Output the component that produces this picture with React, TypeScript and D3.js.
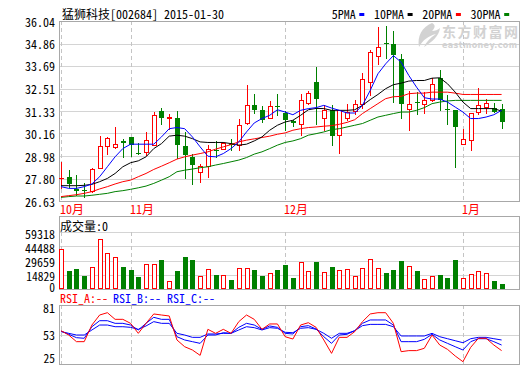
import React, { useRef, useEffect } from "react";
import * as d3 from "d3";

// 猛狮科技 daily K-line, 2014-10 .. 2015-01
const open = [27.81, 27.9, 27.24, 27.22, 27.17, 28.33, 29.49, 29.46, 29.76, 29.96, 29.16, 29.2, 29.58, 31.32, 30.97, 30.99, 29.49, 28.94, 28.16, 28.45, 29.29, 29.37, 29.63, 29.58, 30.71, 31.66, 31.37, 30.99, 31.61, 31.23, 30.8, 30.68, 31.77, 32.85, 30.99, 31.37, 30.07, 30.99, 31.33, 31.72, 32.85, 34.23, 34.89, 34.84, 34.06, 31.46, 31.8, 31.72, 31.89, 33.07, 31.42, 31.37, 29.63, 29.84, 31.28, 31.54, 31.51, 31.46];
const high = [28.68, 28.24, 27.98, 27.55, 28.37, 30.02, 29.95, 30.5, 29.89, 29.98, 29.67, 30.24, 31.27, 31.51, 31.2, 31.33, 30.24, 29.11, 28.56, 29.55, 29.77, 29.72, 29.89, 30.94, 32.72, 32.24, 31.58, 31.86, 32.2, 31.33, 30.88, 32.2, 32.38, 33.66, 31.63, 31.63, 31.4, 31.72, 31.89, 33.31, 34.53, 35.71, 35.76, 35.54, 34.32, 32.36, 32.32, 32.32, 33.07, 33.49, 32.19, 31.4, 30.38, 31.23, 32.53, 31.94, 31.75, 31.72];
const low = [27.3, 27.38, 26.94, 26.82, 27.12, 28.33, 29.11, 29.41, 28.94, 28.97, 29.08, 29.03, 29.55, 30.68, 30.41, 28.9, 27.85, 27.52, 27.64, 27.9, 28.94, 29.34, 29.29, 29.29, 30.68, 31.23, 30.76, 30.95, 31.11, 30.33, 30.57, 30.07, 31.72, 30.68, 30.33, 29.55, 29.16, 30.85, 31.2, 31.51, 32.15, 33.8, 34.11, 31.8, 30.99, 30.36, 31.2, 31.23, 31.86, 31.4, 30.68, 28.42, 29.63, 29.29, 31.2, 31.23, 31.26, 30.45];
const close = [27.81, 27.5, 27.17, 27.19, 28.28, 29.49, 29.91, 29.63, 29.67, 29.55, 29.1, 29.84, 31.14, 30.97, 31.0, 29.55, 29.03, 28.51, 28.45, 29.37, 29.23, 29.67, 29.56, 30.62, 31.63, 31.37, 30.88, 31.61, 31.56, 30.88, 30.73, 31.89, 32.27, 31.98, 31.37, 30.05, 31.37, 31.28, 31.72, 33.02, 34.44, 34.7, 34.84, 34.27, 31.72, 31.68, 31.75, 31.89, 32.76, 31.89, 31.37, 30.5, 29.89, 31.23, 31.63, 31.77, 31.28, 30.76];
const volume = [41400, 19000, 20700, 13400, 22800, 52400, 37200, 33100, 22800, 19700, 12400, 25900, 25900, 30000, 8300, 18600, 33100, 30000, 13400, 20700, 14500, 14500, 9300, 21700, 21700, 19700, 13400, 16600, 19700, 24800, 11400, 27900, 18600, 27900, 17600, 22800, 19700, 20700, 13100, 21700, 31000, 21700, 16600, 19700, 29000, 23800, 18600, 10300, 13400, 14500, 11400, 30000, 11400, 15500, 18600, 16600, 8300, 5200];

const ma5 = [27.38, 27.29, 27.29, 27.38, 27.52, 27.9, 28.42, 28.94, 29.37, 29.6, 29.6, 29.6, 29.6, 29.98, 30.41, 30.47, 30.41, 29.98, 29.46, 28.97, 28.94, 29.11, 29.37, 29.72, 30.24, 30.71, 30.94, 31.11, 31.4, 31.28, 31.14, 31.37, 31.46, 31.51, 31.63, 31.49, 31.37, 31.23, 31.23, 31.63, 32.41, 33.28, 33.8, 34.23, 33.89, 33.19, 32.58, 32.03, 31.96, 31.96, 31.8, 31.54, 31.28, 30.94, 30.94, 31.02, 31.14, 31.37];
const ma10 = [27.43, 27.43, 27.43, 27.45, 27.5, 27.64, 27.81, 28.07, 28.42, 28.63, 28.73, 28.94, 29.37, 29.63, 30.02, 30.07, 30.02, 29.89, 29.72, 29.69, 29.69, 29.69, 29.63, 29.55, 29.6, 29.77, 29.98, 30.33, 30.59, 30.76, 30.85, 31.11, 31.4, 31.47, 31.46, 31.37, 31.37, 31.37, 31.4, 31.63, 31.93, 32.2, 32.5, 32.71, 32.79, 32.9, 32.93, 32.93, 33.05, 33.07, 32.76, 32.32, 31.8, 31.46, 31.46, 31.46, 31.46, 31.33];
const ma20 = [26.86, 26.91, 26.96, 27.03, 27.12, 27.26, 27.38, 27.52, 27.64, 27.72, 27.9, 28.07, 28.28, 28.45, 28.63, 28.82, 28.94, 29.03, 29.11, 29.2, 29.34, 29.46, 29.58, 29.72, 29.81, 29.88, 29.95, 30.02, 30.12, 30.19, 30.33, 30.41, 30.47, 30.5, 30.54, 30.57, 30.64, 30.74, 30.88, 31.2, 31.46, 31.72, 31.98, 32.08, 32.1, 32.24, 32.27, 32.27, 32.32, 32.32, 32.32, 32.27, 32.2, 32.2, 32.2, 32.2, 32.2, 32.2];
const ma30 = [26.82, 26.86, 26.89, 26.89, 26.93, 26.98, 27.03, 27.12, 27.17, 27.24, 27.32, 27.41, 27.55, 27.72, 27.9, 28.16, 28.24, 28.3, 28.37, 28.42, 28.51, 28.59, 28.68, 28.77, 28.9, 29.08, 29.2, 29.37, 29.55, 29.69, 29.77, 29.89, 30.07, 30.15, 30.24, 30.36, 30.41, 30.5, 30.59, 30.68, 30.85, 31.02, 31.11, 31.2, 31.28, 31.28, 31.37, 31.51, 31.72, 31.8, 31.86, 31.89, 31.89, 31.89, 31.89, 31.89, 31.89, 31.89];

const rsiA = [56.6, 52.5, 46.2, 46.2, 62.0, 71.5, 73.7, 67.4, 67.4, 63.6, 54.1, 63.6, 72.5, 71.5, 70.6, 47.8, 41.4, 38.3, 33.2, 57.9, 54.1, 57.9, 54.1, 65.2, 71.5, 67.4, 57.9, 63.0, 63.0, 50.9, 48.7, 62.0, 64.2, 59.8, 47.8, 35.1, 50.3, 50.3, 55.7, 65.2, 72.5, 73.7, 73.7, 63.6, 36.7, 37.7, 37.7, 39.9, 52.5, 43.0, 38.9, 32.6, 27.2, 40.8, 49.4, 49.4, 43.0, 37.7];
const rsiB = [56.3, 53.2, 50.0, 49.4, 60.4, 66.1, 66.1, 63.6, 63.6, 62.0, 57.3, 63.6, 69.3, 67.4, 67.4, 50.9, 47.8, 46.2, 44.6, 52.5, 52.5, 54.7, 54.1, 59.8, 63.6, 62.0, 57.9, 61.1, 59.8, 54.1, 53.5, 60.4, 61.4, 58.2, 50.9, 44.6, 52.5, 53.2, 56.6, 63.6, 66.8, 66.8, 66.8, 62.0, 46.2, 46.2, 46.2, 48.4, 53.2, 47.8, 44.6, 41.4, 38.3, 46.2, 49.0, 49.0, 46.2, 43.0];
const rsiC = [55.7, 54.1, 52.5, 52.5, 57.3, 62.0, 62.0, 60.4, 60.4, 59.8, 57.9, 61.1, 65.2, 63.6, 63.6, 54.1, 52.5, 50.3, 50.3, 53.5, 53.5, 54.1, 54.1, 57.3, 60.4, 59.5, 57.3, 59.5, 58.9, 55.1, 54.7, 58.9, 59.5, 57.9, 54.1, 49.4, 54.1, 54.1, 56.6, 61.4, 62.6, 62.6, 62.6, 60.4, 51.6, 51.6, 51.6, 51.6, 54.1, 50.9, 49.0, 47.1, 45.2, 49.0, 50.3, 50.3, 49.0, 47.8];

const priceTicks = ["26.63", "27.80", "28.98", "30.16", "31.33", "32.51", "33.69", "34.86", "36.04"];
const volTicks = ["0", "14829", "29659", "44488", "59318"];
const rsiTicks = ["25", "53", "81"];
const monthLabels = ["10月", "11月", "12月", "1月"];
const monthStart = [0, 9, 29, 52];
const maNames = ["5PMA", "10PMA", "20PMA", "30PMA"];
const maColors = ["#0000ff", "#000000", "#ff0000", "#008000"];

const RED = "#ff0000";
const GREEN = "#008000";
const FONT = "'Noto Sans Mono CJK SC','Noto Sans CJK SC',monospace";

const App = () => {
  const ref = useRef(null);

  const w = 520,
    h = 365;
  const left = 59,
    right = 519;
  const mainTop = 21,
    mainBottom = 201;
  const volTop = 216,
    volPlotTop = 232,
    volBottom = 289;
  const rsiTop = 305,
    rsiBottom = 364;

  useEffect(() => {
    const svg = d3.select(ref.current);
    svg.selectAll("*").remove();
    svg.attr("viewBox", [0, 0, w, h]).attr("width", w).attr("height", h);

    const n = close.length;
    const x = d3.scaleLinear().domain([0, n - 1]).range([61, 501.6]);
    const px = (i) => Math.round(x(i));

    const y = d3
      .scaleLinear()
      .domain([+priceTicks[0], +priceTicks[priceTicks.length - 1]])
      .range([mainBottom, mainTop]);
    const yv = d3
      .scaleLinear()
      .domain([0, +volTicks[volTicks.length - 1]])
      .range([volBottom, volPlotTop]);
    const yr = d3
      .scaleLinear()
      .domain([+rsiTicks[0], +rsiTicks[rsiTicks.length - 1]])
      .range([rsiBottom, rsiTop]);

    const grid = svg.append("g").attr("shape-rendering", "crispEdges");
    const hline = (yy, color) =>
      grid
        .append("line")
        .attr("x1", left)
        .attr("x2", right)
        .attr("y1", Math.round(yy) + 0.5)
        .attr("y2", Math.round(yy) + 0.5)
        .attr("stroke", color);

    // gridlines
    priceTicks.slice(1, -1).forEach((t) => hline(y(+t), "#d4d4d4"));
    volTicks.slice(1).forEach((t) => hline(yv(+t), "#d4d4d4"));
    hline(yr(53), "#d4d4d4");

    // month dashes
    monthStart.forEach((idx) => {
      [
        [mainTop, mainBottom],
        [volPlotTop, volBottom],
        [rsiTop, rsiBottom],
      ].forEach(([a, b]) =>
        grid
          .append("line")
          .attr("x1", px(idx) + 0.5)
          .attr("x2", px(idx) + 0.5)
          .attr("y1", a)
          .attr("y2", b)
          .attr("stroke", "#c4c4c4")
          .attr("stroke-dasharray", "4,3")
      );
    });

    // frames
    [
      [mainTop, mainBottom],
      [volTop, volBottom],
      [rsiTop, rsiBottom],
    ].forEach(([a, b]) =>
      grid
        .append("rect")
        .attr("x", left + 0.5)
        .attr("y", a + 0.5)
        .attr("width", right - left)
        .attr("height", b - a)
        .attr("fill", "none")
        .attr("stroke", "#a8a8a8")
    );

    // watermark
    const wm = svg.append("g").attr("fill", "#d2d2d2");
    wm.append("path").attr(
      "d",
      "M432,23 C422,27 417,36 419,47 C423,40 428,36 436,34 C430,38 426,42 424,47 C432,42 439,36 440,28 C438,30 435,31 432,31 C435,28 436,25 432,23 Z"
    );
    wm.append("text")
      .attr("x", 442)
      .attr("y", 37)
      .attr("font-family", "'Noto Sans CJK SC'")
      .attr("font-weight", "bold")
      .attr("font-size", 14)
      .attr("textLength", 76)
      .text("东方财富网");
    wm.append("text")
      .attr("x", 442)
      .attr("y", 48)
      .attr("font-family", "'DejaVu Sans'")
      .attr("font-weight", "bold")
      .attr("font-size", 8)
      .attr("textLength", 75)
      .text("eastmoney.com");

    // candles
    const candles = svg.append("g").attr("shape-rendering", "crispEdges");
    d3.range(n).forEach((i) => {
      const cx = px(i);
      const up = close[i] >= open[i];
      const color = up ? RED : GREEN;
      const top = Math.round(y(Math.max(open[i], close[i])));
      const bot = Math.round(y(Math.min(open[i], close[i])));
      const hi = Math.round(y(high[i]));
      const lo = Math.round(y(low[i]));
      if (up) {
        if (top < bot) {
          candles.append("line").attr("x1", cx + 0.5).attr("x2", cx + 0.5).attr("y1", hi).attr("y2", top).attr("stroke", color);
          candles.append("line").attr("x1", cx + 0.5).attr("x2", cx + 0.5).attr("y1", bot + 1).attr("y2", lo + 1).attr("stroke", color);
          candles
            .append("rect")
            .attr("x", cx - 2 + 0.5)
            .attr("y", top + 0.5)
            .attr("width", 4)
            .attr("height", bot - top)
            .attr("fill", "#fff")
            .attr("stroke", color);
        } else {
          candles.append("line").attr("x1", cx + 0.5).attr("x2", cx + 0.5).attr("y1", hi).attr("y2", lo + 1).attr("stroke", color);
          candles.append("line").attr("x1", cx - 2).attr("x2", cx + 3).attr("y1", top + 0.5).attr("y2", top + 0.5).attr("stroke", color);
        }
      } else {
        candles.append("line").attr("x1", cx + 0.5).attr("x2", cx + 0.5).attr("y1", hi).attr("y2", lo + 1).attr("stroke", color);
        candles
          .append("rect")
          .attr("x", cx - 2)
          .attr("y", top)
          .attr("width", 5)
          .attr("height", Math.max(1, bot - top))
          .attr("fill", color);
      }
    });

    // moving averages
    const maLine = d3
      .line()
      .x((d, i) => x(i))
      .y((d) => y(d));
    [ma30, ma20, ma10, ma5].forEach((series, k) => {
      svg
        .append("path")
        .datum(series)
        .attr("fill", "none")
        .attr("stroke", maColors[3 - k])
        .attr("stroke-width", 1)
        .attr("d", maLine);
    });

    // volume bars
    const vbars = svg.append("g").attr("shape-rendering", "crispEdges");
    volume.forEach((v, i) => {
      const cx = px(i);
      const up = close[i] >= open[i];
      const t = Math.round(yv(v));
      if (up) {
        vbars
          .append("rect")
          .attr("x", cx - 2 + 0.5)
          .attr("y", t + 0.5)
          .attr("width", 4)
          .attr("height", volBottom - t - 1)
          .attr("fill", "#fff")
          .attr("stroke", RED);
      } else {
        vbars
          .append("rect")
          .attr("x", cx - 2)
          .attr("y", t)
          .attr("width", 5)
          .attr("height", volBottom - t)
          .attr("fill", GREEN);
      }
    });

    // RSI
    const rsiLine = d3
      .line()
      .x((d, i) => x(i))
      .y((d) => yr(d));
    [
      [rsiC, "#0000ff"],
      [rsiB, "#0000ff"],
      [rsiA, RED],
    ].forEach(([series, color]) =>
      svg
        .append("path")
        .datum(series)
        .attr("fill", "none")
        .attr("stroke", color)
        .attr("stroke-width", 1)
        .attr("d", rsiLine)
    );

    // texts
    const txt = svg.append("g").attr("font-family", FONT).attr("font-size", 12);
    const label = (xx, yy, s, color = "#000", anchor = "start", size = 12) =>
      txt
        .append("text")
        .attr("x", xx)
        .attr("y", yy)
        .attr("fill", color)
        .attr("font-size", size)
        .attr("text-anchor", anchor)
        .attr("dominant-baseline", "central")
        .text(s);

    priceTicks.forEach((t) => label(55, y(+t), t, "#000", "end"));
    volTicks.forEach((t, k) =>
      label(55, k === 0 ? volBottom - 2.5 : yv(+t) + 1, t, "#000", "end", k < 2 ? 11.5 : 12)
    );
    rsiTicks.forEach((t, k) => {
      const yy = k === 0 ? rsiBottom - 6 : k === rsiTicks.length - 1 ? rsiTop + 2 : yr(+t);
      label(55, yy, t, "#000", "end", k === 0 ? 11.5 : 12);
    });
    monthLabels.forEach((m, k) => label(px(monthStart[k]) - 1, 208, m, RED));

    label(62, 13.5, "猛狮科技[002684] 2015-01-30");
    let lx = 331.7;
    maNames.forEach((name, k) => {
      label(lx, 13.5, name);
      const mx = lx + name.length * 6 + 3.6;
      txt.append("rect").attr("x", mx).attr("y", 13).attr("width", 5).attr("height", 3).attr("fill", maColors[k]);
      lx = mx + 14.7;
    });

    label(60, 225, "成交量:0");
    label(60, 297, "RSI_A:--", RED);
    label(113, 297, "RSI_B:--", "#0000ff");
    label(167, 297, "RSI_C:--", "#0000ff");
  }, []);

  return (
    <svg
      ref={ref}
      style={{ position: "fixed", left: 0, top: 0, background: "#fff" }}
    ></svg>
  );
};

export default App;
